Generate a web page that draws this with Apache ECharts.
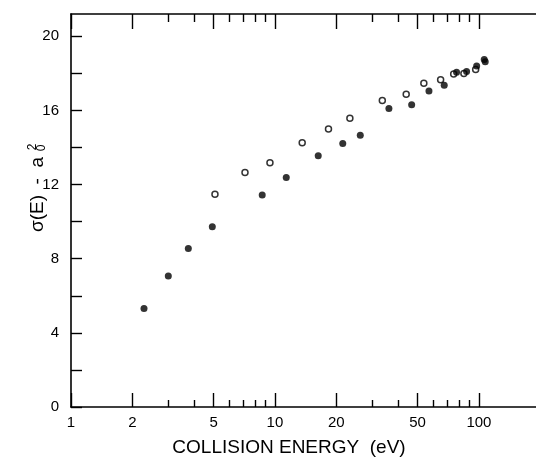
<!DOCTYPE html>
<html>
<head>
<meta charset="utf-8">
<script src="https://cdn.jsdelivr.net/npm/echarts@6/dist/echarts.min.js"></script>
<style>html,body{margin:0;padding:0;background:#fff}#c{width:536px;height:458px}</style>
</head>
<body>
<div id="c"></div>
<script>
// Collision energy (eV) and sigma values
const filledE = [2.28, 3.0, 3.76, 4.93, 8.66, 11.36, 16.3, 21.5, 26.2, 36.2, 46.8, 56.9, 67.6, 77.7, 87.0, 97.5, 106.2, 107.4];
const filledV = [5.32, 7.06, 8.55, 9.72, 11.43, 12.38, 13.55, 14.21, 14.66, 16.1, 16.3, 17.04, 17.36, 18.06, 18.1, 18.4, 18.74, 18.62];
const openE = [5.08, 7.13, 9.45, 13.6, 18.3, 23.3, 33.6, 44.0, 53.7, 64.9, 75.2, 84.4, 96.4];
const openV = [11.48, 12.65, 13.17, 14.25, 15.0, 15.58, 16.53, 16.87, 17.47, 17.65, 17.97, 17.99, 18.2];

const xMajorTicks = [1, 2, 5, 10, 20, 50, 100];
const xMinorTicks = [3, 4, 6, 7, 8, 9, 30, 40, 60, 70, 80, 90];
const yTicks = [0, 2, 4, 6, 8, 10, 12, 14, 16, 18, 20];
const yLabels = [0, 4, 8, 12, 16, 20];
const xMinE = 1, xMaxE = 190.5;
const yMin = 0, yMax = 21.2;

const xTitle = 'COLLISION ENERGY  (eV)';
const yTitle = 'σ(E)  -  a';

const lg = v => Math.log10(v);
const FONT = 'Liberation Sans';
const black = '#000';

function xAxisDef(pos, ticks, len, labels, showLine) {
  return {
    type: 'value', position: pos, min: lg(xMinE), max: lg(xMaxE),
    axisLine: { show: showLine, onZero: false, lineStyle: { color: black, width: 1.6 } },
    axisTick: { show: true, inside: true, length: len, customValues: ticks.map(lg), lineStyle: { color: black, width: 1.4 } },
    axisLabel: labels ? {
      show: true, customValues: labels.map(lg), margin: 8, color: black, fontSize: 15, fontFamily: FONT,
      formatter: v => String(Math.round(Math.pow(10, v)))
    } : { show: false },
    splitLine: { show: false }
  };
}

const chart = echarts.init(document.getElementById('c'), null, { renderer: 'canvas' });
chart.setOption({
  animation: false,
  backgroundColor: '#fff',
  grid: { left: 71, right: 0, top: 14, bottom: 51, containLabel: false },
  xAxis: [
    xAxisDef('bottom', xMajorTicks, 14, xMajorTicks, true),
    xAxisDef('bottom', xMinorTicks, 7, null, false),
    xAxisDef('top', xMajorTicks, 15, null, true),
    xAxisDef('top', xMinorTicks, 8, null, false)
  ],
  yAxis: [{
    type: 'value', position: 'left', min: yMin, max: yMax,
    axisLine: { show: true, onZero: false, lineStyle: { color: black, width: 1.6 } },
    axisTick: { show: true, inside: true, length: 11, customValues: yTicks, lineStyle: { color: black, width: 1.4 } },
    axisLabel: { show: true, customValues: yLabels, margin: 12, color: black, fontSize: 15, fontFamily: FONT },
    splitLine: { show: false }
  }],
  series: [
    {
      type: 'scatter', xAxisIndex: 0, yAxisIndex: 0,
      data: openE.map((e, i) => [lg(e), openV[i]]),
      symbol: 'circle', symbolSize: 6,
      itemStyle: { color: '#fff', borderColor: black, borderWidth: 1.5 }
    },
    {
      type: 'scatter', xAxisIndex: 0, yAxisIndex: 0,
      data: filledE.map((e, i) => [lg(e), filledV[i]]),
      symbol: 'circle', symbolSize: 7,
      itemStyle: { color: black }
    }
  ],
  graphic: [
    { type: 'text', x: 289, y: 448, style: { text: xTitle, fill: black, font: '19px "Liberation Sans"', align: 'center', verticalAlign: 'middle' } },
    { type: 'text', x: 38, y: 232, rotation: Math.PI / 2, style: { text: yTitle, fill: black, font: '19px "Liberation Sans"', align: 'left', verticalAlign: 'middle' } },
    { type: 'text', x: 33, y: 147, rotation: Math.PI / 2, style: { text: '2', fill: black, font: '12px "Liberation Sans"', align: 'center', verticalAlign: 'middle' } },
    { type: 'text', x: 42, y: 148, rotation: Math.PI / 2, style: { text: '0', fill: black, font: '12px "Liberation Sans"', align: 'center', verticalAlign: 'middle' } }
  ]
});
</script>
</body>
</html>
